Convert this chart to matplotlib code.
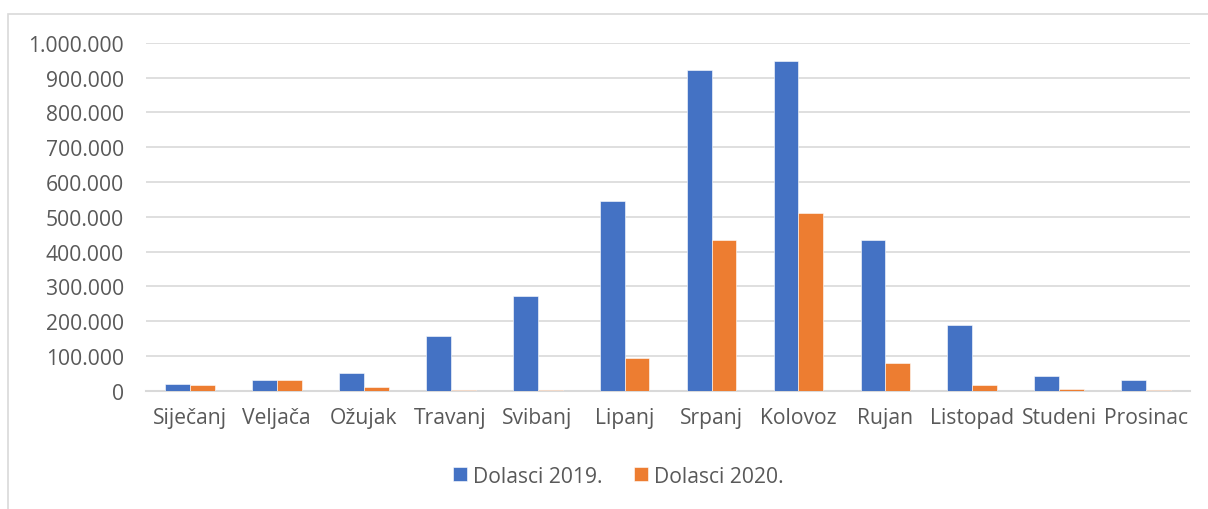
import matplotlib
matplotlib.use('Agg')
import numpy as np
import matplotlib.pyplot as plt
from matplotlib.patches import Rectangle
from matplotlib.ticker import FuncFormatter

months = ['Siječanj', 'Veljača', 'Ožujak', 'Travanj', 'Svibanj', 'Lipanj',
          'Srpanj', 'Kolovoz', 'Rujan', 'Listopad', 'Studeni', 'Prosinac']
dolasci_2019 = [18000, 30000, 52000, 158000, 272000, 545000,
                922000, 948000, 432000, 190000, 42000, 30000]
dolasci_2020 = [15000, 31000, 12000, 1000, 3000, 94000,
                433000, 510000, 81000, 15000, 6000, 3000]

plt.rcParams['font.family'] = ['Open Sans', 'DejaVu Sans']

fig = plt.figure(figsize=(12.08, 5.10), dpi=100)
ax = fig.add_axes([0.121, 0.232, 0.864, 0.682])

# outer chart frame
fig.patches.append(Rectangle((8 / 1208, -0.1), 1.5, 1 - 15 / 510 + 0.1,
                             transform=fig.transFigure, fill=False,
                             edgecolor='#d9d9d9', linewidth=1.2))

x = np.arange(len(months))
w = 0.287
ax.bar(x - w / 2, dolasci_2019, w, color='#4472C4', label='Dolasci 2019.',
       edgecolor='white', linewidth=0.4, zorder=3)
ax.bar(x + w / 2, dolasci_2020, w, color='#ED7D31', label='Dolasci 2020.',
       edgecolor='white', linewidth=0.4, zorder=3)

ax.set_xlim(-0.5, len(months) - 0.5)
ax.set_ylim(0, 1000000)
ax.set_yticks(np.arange(0, 1000001, 100000))
ax.yaxis.set_major_formatter(FuncFormatter(lambda v, p: f'{int(v):,}'.replace(',', '.')))
ax.set_xticks(x)
ax.set_xticklabels(months)

ax.grid(axis='y', color='#d9d9d9', linewidth=1.2, zorder=0)
for s in ['top', 'right', 'left']:
    ax.spines[s].set_visible(False)
ax.spines['bottom'].set_color('#d9d9d9')
ax.spines['bottom'].set_linewidth(1.5)
ax.tick_params(axis='both', length=0, labelsize=15.2, colors='#595959')
ax.tick_params(axis='y', pad=16)
ax.tick_params(axis='x', pad=12)

leg = fig.legend(loc='center', bbox_to_anchor=(0.512, 0.064), ncol=2, frameon=False,
                 fontsize=15.2, handlelength=0.65, handleheight=0.65,
                 handletextpad=0.3, columnspacing=1.5)
for t in leg.get_texts():
    t.set_color('#595959')

fig.savefig('out.png', dpi=100)
